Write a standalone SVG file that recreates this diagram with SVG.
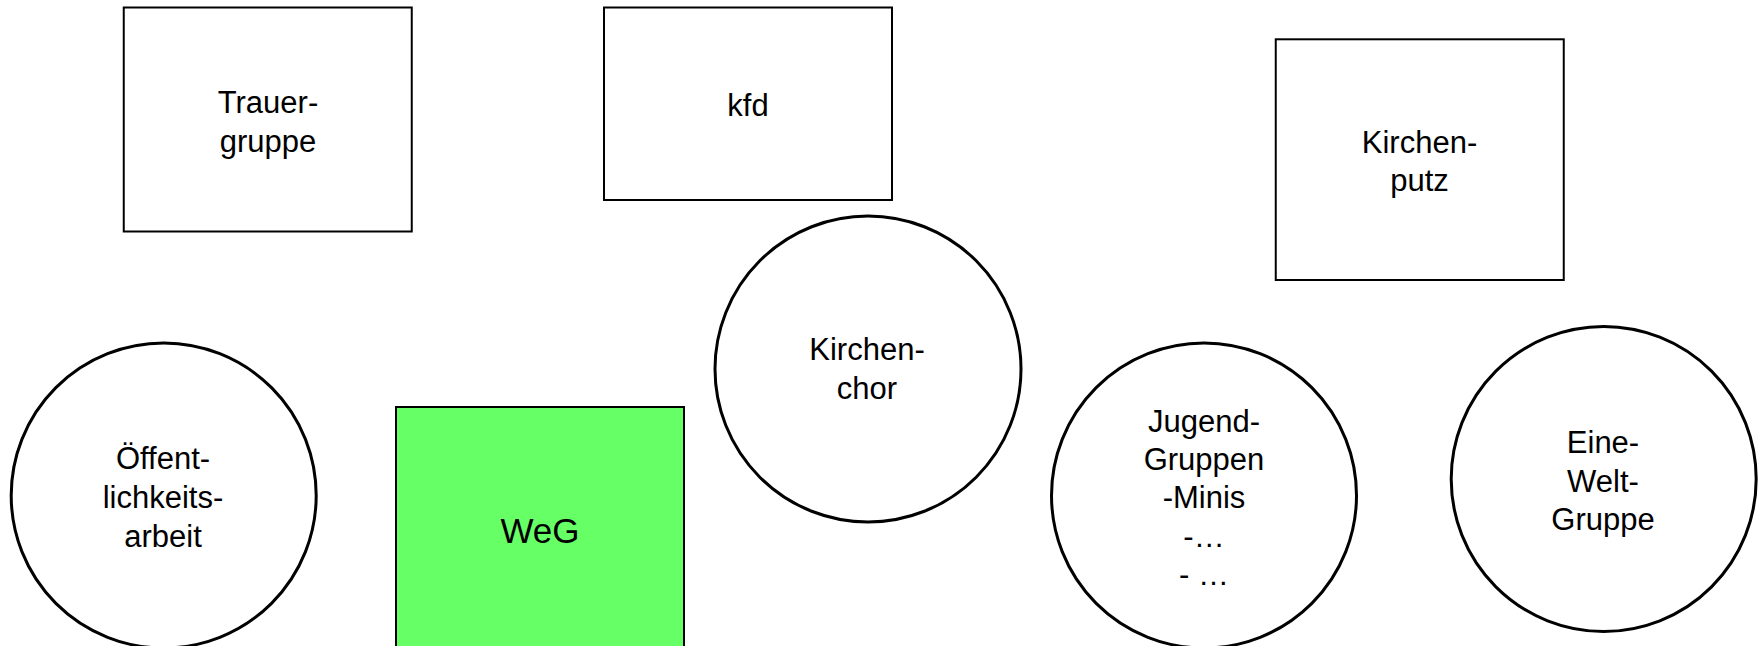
<svg xmlns="http://www.w3.org/2000/svg" width="1764" height="646" viewBox="0 0 1764 646">
<style>
.box{fill:#ffffff;stroke:#000000;stroke-width:2}
.circ{fill:#ffffff;stroke:#000000;stroke-width:3}
.green{fill:#66ff66;stroke:#000000;stroke-width:2}
text{font-family:"Liberation Sans",Arial,sans-serif;font-size:31px;fill:#000000;text-anchor:middle}
.big{font-size:35px}
</style>
<rect width="1764" height="646" fill="#ffffff"/>
<g id="connectors"></g>
<g id="trauergruppe">
<rect class="box" x="123.75" y="7.5" width="288" height="224"/>
<text x="268" y="113.3">Trauer-</text>
<text x="268" y="151.7">gruppe</text>
</g>
<g id="kfd">
<rect class="box" x="604" y="7.5" width="288" height="192.5"/>
<text x="748" y="116">kfd</text>
</g>
<g id="kirchenputz">
<rect class="box" x="1275.75" y="39.3" width="288" height="240.7"/>
<text x="1419.5" y="152.7">Kirchen-</text>
<text x="1419.5" y="191">putz</text>
</g>
<g id="kirchenchor">
<circle class="circ" cx="868" cy="369" r="153"/>
<text x="867" y="360">Kirchen-</text>
<text x="867" y="399">chor</text>
</g>
<g id="oeffentlichkeitsarbeit">
<circle class="circ" cx="163.7" cy="495.5" r="152.5"/>
<text x="163" y="469.3">Öffent-</text>
<text x="163" y="508">lichkeits-</text>
<text x="163" y="546.5">arbeit</text>
</g>
<g id="weg">
<rect class="green" x="396" y="407" width="288" height="260"/>
<text class="big" x="540" y="542.7">WeG</text>
</g>
<g id="jugendgruppen">
<circle class="circ" cx="1204" cy="495.5" r="152.5"/>
<text x="1204" y="431.7">Jugend-</text>
<text x="1204" y="469.8">Gruppen</text>
<text x="1204" y="508.3">-Minis</text>
<text x="1204" y="546.7">-…</text>
<text x="1204" y="585">- …</text>
</g>
<g id="einewelt">
<circle class="circ" cx="1603.7" cy="479" r="152.5"/>
<text x="1603" y="453.3">Eine-</text>
<text x="1603" y="491.7">Welt-</text>
<text x="1603" y="530">Gruppe</text>
</g>
</svg>
